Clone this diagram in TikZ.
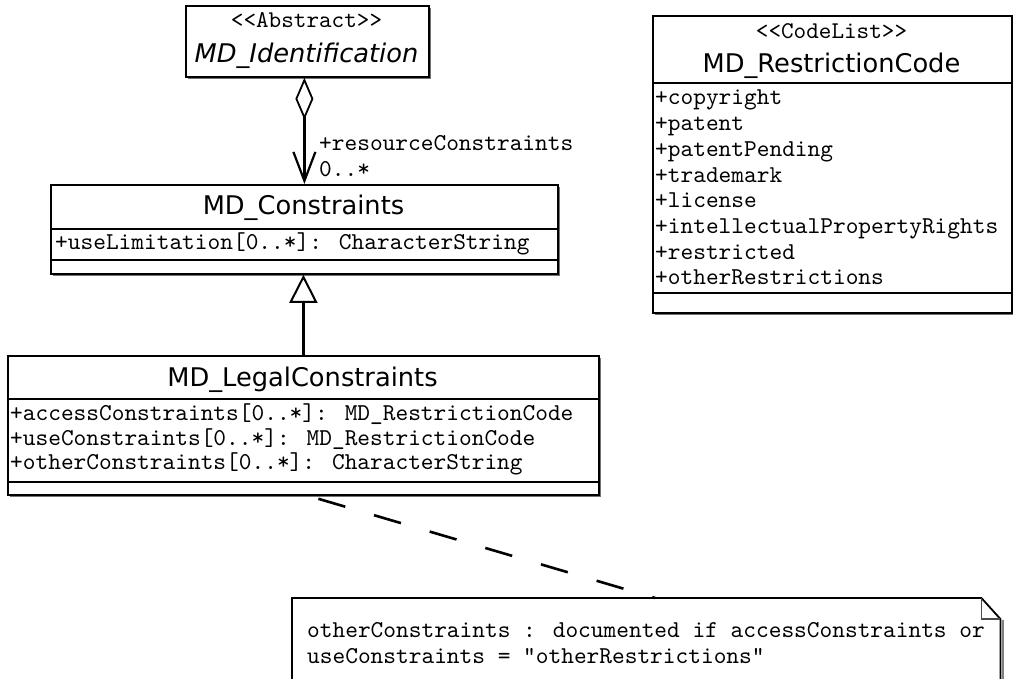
\documentclass[tikz,border=0pt]{standalone}
\usepackage{fontspec}
\setmainfont{DejaVu Sans}
\newfontfamily\monof{lmmono10-regular.otf}[Ligatures=TeXOff]
\usetikzlibrary{arrows.meta,shadows}
\begin{document}
\begin{tikzpicture}[x=1pt,y=-1pt,
  umlbox/.style={draw=black, line width=1.8pt, fill=white, inner sep=0pt, anchor=north west,
    drop shadow={shadow xshift=2pt, shadow yshift=-2pt, fill=black!55, opacity=1}},
  divider/.style={line width=1.8pt},
  mono/.style={font=\monof\fontsize{24.2}{28}\selectfont, inner sep=0pt, anchor=base west},
  stereo/.style={font=\monof\fontsize{24}{28}\selectfont, inner sep=0pt, anchor=base},
  cname/.style={font=\fontsize{25.7}{30}\selectfont, inner sep=0pt, anchor=base},
  conn/.style={line width=2.2pt},
  dep/.style={line width=2.6pt, dash pattern=on 28pt off 30pt}]
\useasboundingbox (0,0) rectangle (1013,679);
\clip (0,0) rectangle (1013,679);

% MD_Identification
\node[umlbox, minimum width=243pt, minimum height=71pt] (ident) at (185,5) {};
\node[stereo] (identst) at (306.5,28) {<<Abstract>>};
\node[cname, font=\fontsize{25.7}{30}\selectfont\itshape] (identnm) at (306.5,63) {MD\_Identification};

% MD_RestrictionCode
\node[umlbox, minimum width=359pt, minimum height=297pt] (code) at (652,15) {};
\draw[divider] (652,83) -- (1011,83);
\draw[divider] (652,293) -- (1011,293);
\node[stereo] (codest) at (831.5,38.5) {<<CodeList>>};
\node[cname] (codenm) at (831.5,73) {MD\_RestrictionCode};
\node[mono] (c1) at (655,105) {+copyright};
\node[mono] (c2) at (655,130.7) {+patent};
\node[mono] (c3) at (655,156.4) {+patentPending};
\node[mono] (c4) at (655,182.1) {+trademark};
\node[mono] (c5) at (655,207.8) {+license};
\node[mono] (c6) at (655,233.5) {+intellectualPropertyRights};
\node[mono] (c7) at (655,259.2) {+restricted};
\node[mono] (c8) at (655,285) {+otherRestrictions};

% MD_Constraints
\node[umlbox, minimum width=507pt, minimum height=89pt] (cons) at (50,184) {};
\draw[divider] (50,229) -- (557,229);
\draw[divider] (50,260) -- (557,260);
\node[cname] (consnm) at (303.5,215) {MD\_Constraints};
\node[mono] (cons1) at (55,250) {+useLimitation[0..*]: CharacterString};

% MD_LegalConstraints
\node[umlbox, minimum width=591pt, minimum height=139pt] (legal) at (7,355) {};
\draw[divider] (7,399) -- (598,399);
\draw[divider] (7,482) -- (598,482);
\node[cname] (legalnm) at (302.5,386) {MD\_LegalConstraints};
\node[mono] (l1) at (10,420) {+accessConstraints[0..*]: MD\_RestrictionCode};
\node[mono] (l2) at (10,445) {+useConstraints[0..*]: MD\_RestrictionCode};
\node[mono] (l3) at (10,469) {+otherConstraints[0..*]: CharacterString};

% Note
\node[inner sep=0pt, minimum width=708pt, minimum height=110pt, anchor=north west] (note) at (292,598) {};
\draw[black!50, line width=2pt] ([xshift=2.5pt,yshift=-22pt]note.north east) -- ([xshift=2.5pt]note.south east);
\draw[line width=1.8pt, fill=white] (note.north west) -- ([xshift=-19pt]note.north east)
  -- ([yshift=-21pt]note.north east) -- (note.south east) -- (note.south west) -- cycle;
\draw[line width=1.4pt, black!70] ([xshift=-19pt]note.north east) |- ([yshift=-21pt]note.north east);
\node[mono] (n1) at (307,637) {otherConstraints : documented if accessConstraints or};
\node[mono] (n2) at (307,663) {useConstraints = "otherRestrictions"};

% Connectors
\draw[conn, {Diamond[open,length=42pt,width=18pt,line width=1.8pt]}-{Straight Barb[length=29pt,width=22pt,line width=2.2pt]}]
  (cons.north |- ident.south) -- (cons.north);
\node[mono] (role) at (319,151) {+resourceConstraints};
\node[mono] (mult) at (319,177) {0..*};

\draw[conn, -{Triangle[open,length=28pt,width=28pt,line width=2pt]}]
  (legal.north) -- (legal.north |- cons.south);

\draw[dep] ([xshift=15pt,yshift=-3pt]legal.south) -- ([xshift=9pt]note.north);
\end{tikzpicture}
\end{document}
